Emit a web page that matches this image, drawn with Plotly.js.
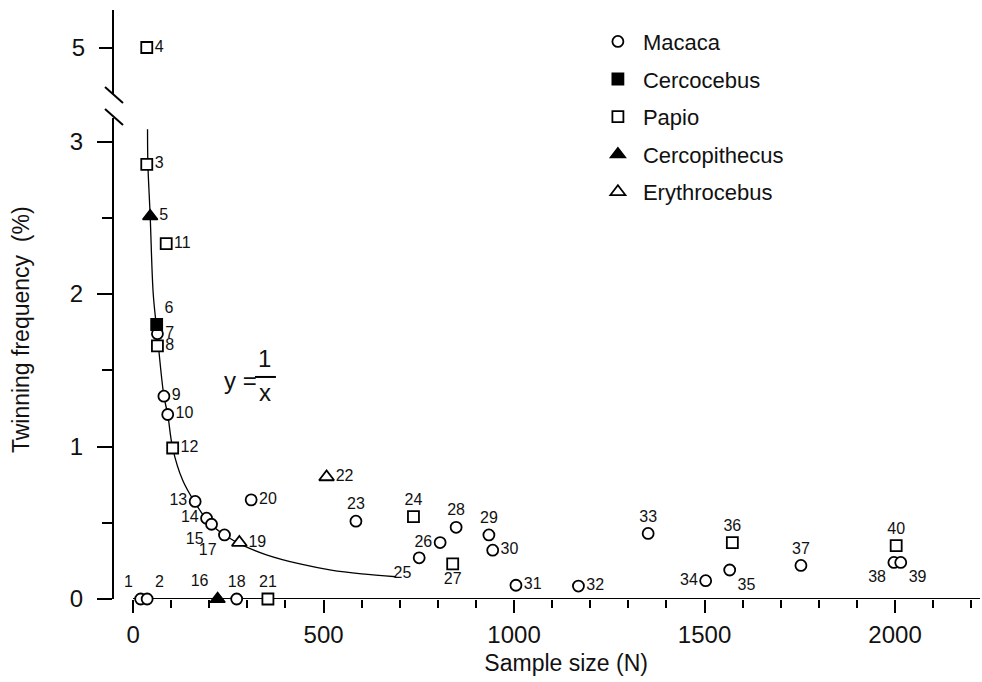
<!DOCTYPE html>
<html>
<head>
<meta charset="utf-8">
<script src="https://cdn.plot.ly/plotly-3.0.1.min.js"></script>
<style>
  html, body { margin: 0; padding: 0; background: #fff; }
  #chart { width: 982px; height: 682px; }
</style>
</head>
<body>
<div id="chart"></div>
<script>
// ---------------- DATA ----------------
const genera = ['Macaca', 'Cercocebus', 'Papio', 'Cercopithecus', 'Erythrocebus'];

// Macaca (open circles)
const macacaId = [1, 2, 7, 9, 10, 13, 14, 15, 17, 18, 20, 23, 25, 26, 28, 29, 30, 31, 32, 33, 34, 35, 37, 38, 39];
const macacaN  = [20, 37, 64, 81, 91, 163, 193, 206, 240, 272, 310, 585, 751, 806, 848, 934, 944, 1005, 1169, 1352, 1503, 1566, 1753, 1997, 2015];
const macacaF  = [0, 0, 1.74, 1.33, 1.21, 0.64, 0.53, 0.49, 0.42, 0, 0.65, 0.51, 0.27, 0.37, 0.47, 0.42, 0.32, 0.09, 0.085, 0.43, 0.12, 0.19, 0.22, 0.24, 0.24];

// Cercocebus (filled square)
const cercocebusId = [6];
const cercocebusN  = [62];
const cercocebusF  = [1.80];

// Papio (open squares) – lower panel
const papioId = [3, 8, 11, 12, 21, 24, 27, 36, 40];
const papioN  = [36, 64, 87, 104, 354, 736, 839, 1573, 2003];
const papioF  = [2.85, 1.66, 2.33, 0.99, 0, 0.54, 0.23, 0.37, 0.35];
// Papio – point above the axis break
const papioHighId = [4];
const papioHighN  = [36];
const papioHighF  = [5.0];

// Cercopithecus (filled triangles)
const cercopithecusId = [5, 16];
const cercopithecusN  = [45, 222];
const cercopithecusF  = [2.51, 0];

// Erythrocebus (open triangles)
const erythrocebusId = [19, 22];
const erythrocebusN  = [279, 508];
const erythrocebusF  = [0.37, 0.80];

// y = 1/x curve
const curveN = [38, 39, 45, 53, 63, 81, 91, 104, 130, 163, 200, 240, 290, 350, 438, 520, 600, 690];
const curveF = [3.08, 2.85, 2.51, 2.0, 1.75, 1.33, 1.21, 0.99, 0.78, 0.63, 0.50, 0.42, 0.35, 0.29, 0.23, 0.19, 0.165, 0.146];

// tick labels
const xTicks = [0, 500, 1000, 1500, 2000];
const yTicksLow = [0, 1, 2, 3];
const yTicksHigh = [5];

// ---------------- label placement (style only) ----------------
const macacaPos = ['top left','top right','middle right','middle right','middle right','middle left','middle left','bottom left','bottom left','top center','middle right','top center','bottom left','middle left','top center','top center','middle right','middle right','middle right','top center','middle left','bottom right','top center','bottom left','bottom right'];
const cercocebusPos = ['top right'];
const papioPos = ['middle right','middle right','middle right','middle right','top center','top center','bottom center','top center','top center'];
const papioHighPos = ['middle right'];
const cercopithecusPos = ['middle right','top left'];
const erythrocebusPos = ['middle right','middle right'];

// ---------------- STYLE ----------------
const FONT = 'Liberation Sans, Arial, sans-serif';
const labelFont = { family: FONT, size: 16, color: '#111' };
const LW = 1.8;
const NB = '\u00a0';
// invisible lead-in used only to nudge the centred axis titles to their reference position
const pad = (k) => '<span>' + NB.repeat(k) + '</span>';

function pts(name, group, ids, xs, ys, pos, marker, yaxis, showlegend) {
  return {
    type: 'scatter', mode: 'markers+text', name: name, legendgroup: group,
    showlegend: showlegend, x: xs, y: ys, yaxis: yaxis,
    text: ids.map(String), textposition: pos, textfont: labelFont,
    marker: marker, cliponaxis: false, hoverinfo: 'x+y+text'
  };
}

const openCircle = { symbol: 'circle', size: 11, color: '#fff', line: { color: '#000', width: LW } };
const fillSquare = { symbol: 'square', size: 11, color: '#000', line: { color: '#000', width: LW } };
const openSquare = { symbol: 'square', size: 11, color: '#fff', line: { color: '#000', width: LW } };
const fillTri    = { symbol: 'triangle-up', size: 13, color: '#000', line: { color: '#000', width: 1.5 } };
const openTri    = { symbol: 'triangle-up', size: 13, color: '#fff', line: { color: '#000', width: LW } };

const traces = [
  { type: 'scatter', mode: 'lines', x: curveN, y: curveF, showlegend: false,
    line: { color: '#000', width: 1.3, shape: 'spline', smoothing: 1 }, hoverinfo: 'skip', cliponaxis: false },
  pts(genera[0], 'g0', macacaId, macacaN, macacaF, macacaPos, openCircle, 'y', true),
  pts(genera[1], 'g1', cercocebusId, cercocebusN, cercocebusF, cercocebusPos, fillSquare, 'y', true),
  pts(genera[2], 'g2', papioId, papioN, papioF, papioPos, openSquare, 'y', true),
  pts(genera[2], 'g2', papioHighId, papioHighN, papioHighF, papioHighPos, openSquare, 'y2', false),
  pts(genera[3], 'g3', cercopithecusId, cercopithecusN, cercopithecusF, cercopithecusPos, fillTri, 'y', true),
  pts(genera[4], 'g4', erythrocebusId, erythrocebusN, erythrocebusF, erythrocebusPos, openTri, 'y', true)
];

const tickFont = { family: FONT, size: 24, color: '#111' };
const titleFont = { family: FONT, size: 23, color: '#111' };

const layout = {
  width: 982, height: 682,
  margin: { l: 114, r: 2, t: 10, b: 83 },
  paper_bgcolor: '#fff', plot_bgcolor: '#fff',
  font: { family: FONT, color: '#111' },
  showlegend: true,
  legend: {
    xref: 'paper', yref: 'paper', x: 0.553, y: 0.982, xanchor: 'left', yanchor: 'top',
    font: { family: FONT, size: 22, color: '#111' }, bgcolor: 'rgba(0,0,0,0)',
    traceorder: 'grouped', tracegroupgap: 6, itemwidth: 40
  },
  xaxis: {
    range: [-50, 2223], domain: [0, 1], anchor: 'y',
    tickmode: 'array', tickvals: xTicks, ticktext: xTicks.map(String),
    ticks: 'outside', ticklen: 13, tickwidth: 2, tickcolor: '#000',
    minor: { tick0: 0, dtick: 100, ticks: 'outside', ticklen: 8, tickwidth: 2, tickcolor: '#000', showgrid: false },
    tickfont: tickFont, ticklabelstandoff: 1,
    showline: false, showgrid: false, zeroline: false, fixedrange: true,
    title: { text: pad(6) + 'Sample size (N)', font: titleFont, standoff: 8 }
  },
  yaxis: {
    domain: [0, 0.8166], range: [0, 3.154], anchor: 'x',
    tickmode: 'array', tickvals: yTicksLow, ticktext: yTicksLow.map(String),
    ticks: 'outside', ticklen: 15, tickwidth: 2, tickcolor: '#000',
    minor: { tick0: 0, dtick: 0.5, ticks: 'outside', ticklen: 10, tickwidth: 2, tickcolor: '#000', showgrid: false },
    tickfont: tickFont, ticklabelstandoff: 9,
    showline: true, linewidth: 2, linecolor: '#000',
    showgrid: false, zeroline: false, fixedrange: true,
    title: { text: pad(9) + 'Twinning frequency' + NB + ' (%)', font: titleFont, standoff: 34 }
  },
  yaxis2: {
    domain: [0.8574, 1], range: [4.695, 5.246], anchor: 'x',
    tickmode: 'array', tickvals: yTicksHigh, ticktext: yTicksHigh.map(String),
    ticks: 'outside', ticklen: 13, tickwidth: 2, tickcolor: '#000',
    tickfont: tickFont, ticklabelstandoff: 9,
    showline: true, linewidth: 2, linecolor: '#000',
    showgrid: false, zeroline: false, fixedrange: true
  },
  shapes: [
    // x axis line starting at N = 0
    { type: 'line', xref: 'x', yref: 'y', x0: 0, x1: 2223, y0: 0, y1: 0,
      line: { color: '#000', width: 2 }, layer: 'below' },
    // axis-break slashes
    { type: 'line', xref: 'paper', yref: 'paper', xsizemode: 'pixel', ysizemode: 'pixel',
      xanchor: 0, yanchor: 0.8183, x0: -9, x1: 9, y0: 8, y1: -8, line: { color: '#000', width: 2 } },
    { type: 'line', xref: 'paper', yref: 'paper', xsizemode: 'pixel', ysizemode: 'pixel',
      xanchor: 0, yanchor: 0.8557, x0: -9, x1: 9, y0: 8, y1: -8, line: { color: '#000', width: 2 } },
    // fraction bar of y = 1/x
    { type: 'line', xref: 'x', yref: 'y', x0: 320, x1: 375, y0: 1.456, y1: 1.456,
      line: { color: '#000', width: 2 } }
  ],
  annotations: [
    { xref: 'x', yref: 'y', x: 281, y: 1.43, text: 'y =', showarrow: false,
      font: { family: FONT, size: 24, color: '#111' } },
    { xref: 'x', yref: 'y', x: 346, y: 1.58, text: '1', showarrow: false,
      font: { family: FONT, size: 24, color: '#111' } },
    { xref: 'x', yref: 'y', x: 346, y: 1.355, text: 'x', showarrow: false,
      font: { family: FONT, size: 24, color: '#111' } }
  ]
};

Plotly.newPlot('chart', traces, layout, { displayModeBar: false, responsive: false });
</script>
</body>
</html>
